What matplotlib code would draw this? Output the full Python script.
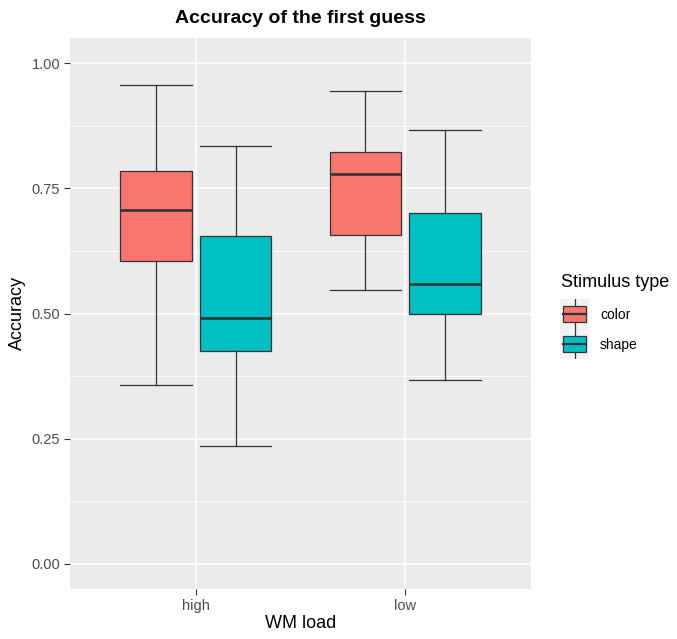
import matplotlib
matplotlib.use("Agg")
import matplotlib.pyplot as plt
from matplotlib.patches import Rectangle

# ---- data ----
loads = ["high", "low"]
stim_types = ["color", "shape"]
colors = ["#F8766D", "#00BFC4"]
# per (load, stim): [lower whisker, Q1, median, Q3, upper whisker]
whislo = {"high": [0.357, 0.235], "low": [0.547, 0.367]}
q1 = {"high": [0.604, 0.425], "low": [0.656, 0.499]}
med = {"high": [0.706, 0.491], "low": [0.779, 0.558]}
q3 = {"high": [0.785, 0.655], "low": [0.822, 0.700]}
whishi = {"high": [0.957, 0.835], "low": [0.944, 0.866]}
yticks = [0.0, 0.25, 0.5, 0.75, 1.0]
yticklabels = ["0.00", "0.25", "0.50", "0.75", "1.00"]

plt.rcParams["font.family"] = ["Liberation Sans", "DejaVu Sans"]

W, H = 677, 639
fig = plt.figure(figsize=(W / 100, H / 100), dpi=100)
fig.patch.set_facecolor("white")
L, R, T, B = 70, 531, 38, 589
ax = fig.add_axes([L / W, 1 - B / H, (R - L) / W, (B - T) / H])
ax.set_facecolor("#EBEBEB")
for s in ax.spines.values():
    s.set_visible(False)

ax.set_xlim(0.4, 2.6)
ax.set_ylim(-0.05, 1.05)

# grid
for y in yticks:
    ax.axhline(y, color="white", lw=1.1, zorder=0)
for y in [0.125, 0.375, 0.625, 0.875]:
    ax.axhline(y, color="white", lw=0.55, zorder=0)
for x in [1, 2]:
    ax.axvline(x, color="white", lw=1.1, zorder=0)

bw = 0.342
off = 0.19
for i, load in enumerate(loads):
    for j, st in enumerate(stim_types):
        pos = i + 1 + (-off if j == 0 else off)
        stats = [dict(whislo=whislo[load][j], q1=q1[load][j], med=med[load][j],
                      q3=q3[load][j], whishi=whishi[load][j], fliers=[])]
        ax.bxp(stats, positions=[pos], widths=bw, patch_artist=True,
               showfliers=False, manage_ticks=False,
               boxprops=dict(facecolor=colors[j], edgecolor="#333333", lw=0.9),
               medianprops=dict(color="#333333", lw=1.9),
               whiskerprops=dict(color="#333333", lw=0.9),
               capprops=dict(color="#333333", lw=0.9),
               capwidths=bw)

ax.set_xticks([1, 2])
ax.set_xticklabels(loads)
ax.set_yticks(yticks)
ax.set_yticklabels(yticklabels)
ax.tick_params(axis="both", colors="#333333", length=4, width=0.8,
               labelcolor="#4D4D4D", labelsize=10.5, pad=3)
ax.set_xlabel("WM load", fontsize=13, color="black", labelpad=2)
ax.set_ylabel("Accuracy", fontsize=13, color="black", labelpad=4)
ax.set_title("Accuracy of the first guess", fontsize=14, fontweight="bold", pad=11)

# legend
fig.text(561 / W, 1 - 283 / H, "Stimulus type", fontsize=13, va="center", ha="left")
for k, (st, c) in enumerate(zip(stim_types, colors)):
    ky0 = 299 + 30 * k
    kax = fig.add_axes([560 / W, 1 - (ky0 + 30) / H, 29 / W, 30 / H])
    kax.set_facecolor("#F2F2F2")
    kax.set_xlim(0, 1)
    kax.set_ylim(0, 1)
    kax.set_xticks([])
    kax.set_yticks([])
    for s in kax.spines.values():
        s.set_visible(False)
    kax.plot([0.5, 0.5], [0.0, 1.0], color="#333333", lw=0.9)
    kax.add_patch(Rectangle((0.12, 0.22), 0.76, 0.56, facecolor=c,
                            edgecolor="#333333", lw=0.9, zorder=2))
    kax.plot([0.12, 0.88], [0.5, 0.5], color="#333333", lw=1.6, zorder=3)
    fig.text(600 / W, 1 - (ky0 + 16) / H, st, fontsize=10, va="center", ha="left")

fig.savefig("out.png", dpi=100)
